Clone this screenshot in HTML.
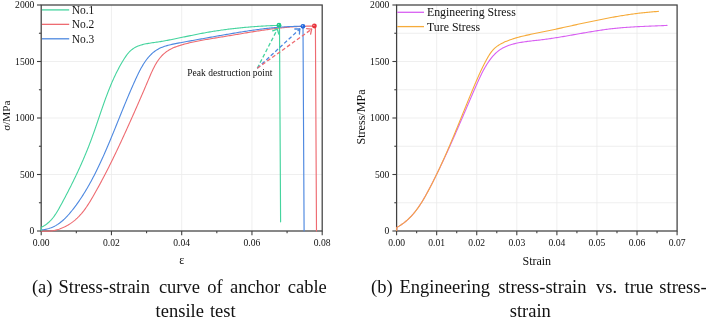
<!DOCTYPE html>
<html><head><meta charset="utf-8"><style>
html,body{margin:0;padding:0;background:#fff;width:708px;height:319px;overflow:hidden;}
svg{display:block;will-change:transform;}
text{font-family:"Liberation Serif",serif;}
</style></head><body>
<svg width="708" height="319" viewBox="0 0 708 319" font-family="Liberation Serif, serif" fill="#111">
<rect width="708" height="319" fill="#fff"/>
<line x1="111.45" y1="5.0" x2="111.45" y2="231.0" stroke="#ebebeb" stroke-width="0.8"/>
<line x1="181.70" y1="5.0" x2="181.70" y2="231.0" stroke="#ebebeb" stroke-width="0.8"/>
<line x1="251.95" y1="5.0" x2="251.95" y2="231.0" stroke="#ebebeb" stroke-width="0.8"/>
<line x1="41.2" y1="174.50" x2="322.2" y2="174.50" stroke="#ebebeb" stroke-width="0.8"/>
<line x1="41.2" y1="118.00" x2="322.2" y2="118.00" stroke="#ebebeb" stroke-width="0.8"/>
<line x1="41.2" y1="61.50" x2="322.2" y2="61.50" stroke="#ebebeb" stroke-width="0.8"/>
<line x1="41.20" y1="231.0" x2="41.20" y2="235.3" stroke="#404040" stroke-width="1.1"/>
<text x="41.20" y="246.3" font-size="9.6" text-anchor="middle">0.00</text>
<line x1="111.45" y1="231.0" x2="111.45" y2="235.3" stroke="#404040" stroke-width="1.1"/>
<text x="111.45" y="246.3" font-size="9.6" text-anchor="middle">0.02</text>
<line x1="181.70" y1="231.0" x2="181.70" y2="235.3" stroke="#404040" stroke-width="1.1"/>
<text x="181.70" y="246.3" font-size="9.6" text-anchor="middle">0.04</text>
<line x1="251.95" y1="231.0" x2="251.95" y2="235.3" stroke="#404040" stroke-width="1.1"/>
<text x="251.95" y="246.3" font-size="9.6" text-anchor="middle">0.06</text>
<line x1="322.20" y1="231.0" x2="322.20" y2="235.3" stroke="#404040" stroke-width="1.1"/>
<text x="322.20" y="246.3" font-size="9.6" text-anchor="middle">0.08</text>
<line x1="76.33" y1="231.0" x2="76.33" y2="233.3" stroke="#404040" stroke-width="1.1"/>
<line x1="146.57" y1="231.0" x2="146.57" y2="233.3" stroke="#404040" stroke-width="1.1"/>
<line x1="216.82" y1="231.0" x2="216.82" y2="233.3" stroke="#404040" stroke-width="1.1"/>
<line x1="287.08" y1="231.0" x2="287.08" y2="233.3" stroke="#404040" stroke-width="1.1"/>
<line x1="37.0" y1="231.00" x2="41.2" y2="231.00" stroke="#404040" stroke-width="1.1"/>
<text x="34.3" y="234.20" font-size="9.6" text-anchor="end">0</text>
<line x1="37.0" y1="174.50" x2="41.2" y2="174.50" stroke="#404040" stroke-width="1.1"/>
<text x="34.3" y="177.70" font-size="9.6" text-anchor="end">500</text>
<line x1="37.0" y1="118.00" x2="41.2" y2="118.00" stroke="#404040" stroke-width="1.1"/>
<text x="34.3" y="121.20" font-size="9.6" text-anchor="end">1000</text>
<line x1="37.0" y1="61.50" x2="41.2" y2="61.50" stroke="#404040" stroke-width="1.1"/>
<text x="34.3" y="64.70" font-size="9.6" text-anchor="end">1500</text>
<line x1="37.0" y1="5.00" x2="41.2" y2="5.00" stroke="#404040" stroke-width="1.1"/>
<text x="34.3" y="8.20" font-size="9.6" text-anchor="end">2000</text>
<line x1="38.900000000000006" y1="202.75" x2="41.2" y2="202.75" stroke="#404040" stroke-width="1.1"/>
<line x1="38.900000000000006" y1="146.25" x2="41.2" y2="146.25" stroke="#404040" stroke-width="1.1"/>
<line x1="38.900000000000006" y1="89.75" x2="41.2" y2="89.75" stroke="#404040" stroke-width="1.1"/>
<line x1="38.900000000000006" y1="33.25" x2="41.2" y2="33.25" stroke="#404040" stroke-width="1.1"/>
<rect x="41.2" y="5.0" width="281.00" height="226.0" fill="none" stroke="#404040" stroke-width="1.25"/>
<line x1="436.67" y1="5.0" x2="436.67" y2="231.0" stroke="#ebebeb" stroke-width="0.8"/>
<line x1="476.74" y1="5.0" x2="476.74" y2="231.0" stroke="#ebebeb" stroke-width="0.8"/>
<line x1="516.81" y1="5.0" x2="516.81" y2="231.0" stroke="#ebebeb" stroke-width="0.8"/>
<line x1="556.89" y1="5.0" x2="556.89" y2="231.0" stroke="#ebebeb" stroke-width="0.8"/>
<line x1="596.96" y1="5.0" x2="596.96" y2="231.0" stroke="#ebebeb" stroke-width="0.8"/>
<line x1="637.03" y1="5.0" x2="637.03" y2="231.0" stroke="#ebebeb" stroke-width="0.8"/>
<line x1="396.6" y1="202.75" x2="677.1" y2="202.75" stroke="#ebebeb" stroke-width="0.8"/>
<line x1="396.6" y1="174.50" x2="677.1" y2="174.50" stroke="#ebebeb" stroke-width="0.8"/>
<line x1="396.6" y1="146.25" x2="677.1" y2="146.25" stroke="#ebebeb" stroke-width="0.8"/>
<line x1="396.6" y1="118.00" x2="677.1" y2="118.00" stroke="#ebebeb" stroke-width="0.8"/>
<line x1="396.6" y1="89.75" x2="677.1" y2="89.75" stroke="#ebebeb" stroke-width="0.8"/>
<line x1="396.6" y1="61.50" x2="677.1" y2="61.50" stroke="#ebebeb" stroke-width="0.8"/>
<line x1="396.6" y1="33.25" x2="677.1" y2="33.25" stroke="#ebebeb" stroke-width="0.8"/>
<line x1="396.60" y1="231.0" x2="396.60" y2="235.3" stroke="#404040" stroke-width="1.1"/>
<text x="396.60" y="246.3" font-size="9.6" text-anchor="middle">0.00</text>
<line x1="436.67" y1="231.0" x2="436.67" y2="235.3" stroke="#404040" stroke-width="1.1"/>
<text x="436.67" y="246.3" font-size="9.6" text-anchor="middle">0.01</text>
<line x1="476.74" y1="231.0" x2="476.74" y2="235.3" stroke="#404040" stroke-width="1.1"/>
<text x="476.74" y="246.3" font-size="9.6" text-anchor="middle">0.02</text>
<line x1="516.81" y1="231.0" x2="516.81" y2="235.3" stroke="#404040" stroke-width="1.1"/>
<text x="516.81" y="246.3" font-size="9.6" text-anchor="middle">0.03</text>
<line x1="556.89" y1="231.0" x2="556.89" y2="235.3" stroke="#404040" stroke-width="1.1"/>
<text x="556.89" y="246.3" font-size="9.6" text-anchor="middle">0.04</text>
<line x1="596.96" y1="231.0" x2="596.96" y2="235.3" stroke="#404040" stroke-width="1.1"/>
<text x="596.96" y="246.3" font-size="9.6" text-anchor="middle">0.05</text>
<line x1="637.03" y1="231.0" x2="637.03" y2="235.3" stroke="#404040" stroke-width="1.1"/>
<text x="637.03" y="246.3" font-size="9.6" text-anchor="middle">0.06</text>
<line x1="677.10" y1="231.0" x2="677.10" y2="235.3" stroke="#404040" stroke-width="1.1"/>
<text x="677.10" y="246.3" font-size="9.6" text-anchor="middle">0.07</text>
<line x1="416.64" y1="231.0" x2="416.64" y2="233.3" stroke="#404040" stroke-width="1.1"/>
<line x1="456.71" y1="231.0" x2="456.71" y2="233.3" stroke="#404040" stroke-width="1.1"/>
<line x1="496.78" y1="231.0" x2="496.78" y2="233.3" stroke="#404040" stroke-width="1.1"/>
<line x1="536.85" y1="231.0" x2="536.85" y2="233.3" stroke="#404040" stroke-width="1.1"/>
<line x1="576.92" y1="231.0" x2="576.92" y2="233.3" stroke="#404040" stroke-width="1.1"/>
<line x1="616.99" y1="231.0" x2="616.99" y2="233.3" stroke="#404040" stroke-width="1.1"/>
<line x1="657.06" y1="231.0" x2="657.06" y2="233.3" stroke="#404040" stroke-width="1.1"/>
<line x1="392.40000000000003" y1="231.00" x2="396.6" y2="231.00" stroke="#404040" stroke-width="1.1"/>
<text x="389.3" y="234.20" font-size="9.6" text-anchor="end">0</text>
<line x1="392.40000000000003" y1="174.50" x2="396.6" y2="174.50" stroke="#404040" stroke-width="1.1"/>
<text x="389.3" y="177.70" font-size="9.6" text-anchor="end">500</text>
<line x1="392.40000000000003" y1="118.00" x2="396.6" y2="118.00" stroke="#404040" stroke-width="1.1"/>
<text x="389.3" y="121.20" font-size="9.6" text-anchor="end">1000</text>
<line x1="392.40000000000003" y1="61.50" x2="396.6" y2="61.50" stroke="#404040" stroke-width="1.1"/>
<text x="389.3" y="64.70" font-size="9.6" text-anchor="end">1500</text>
<line x1="392.40000000000003" y1="5.00" x2="396.6" y2="5.00" stroke="#404040" stroke-width="1.1"/>
<text x="389.3" y="8.20" font-size="9.6" text-anchor="end">2000</text>
<line x1="394.3" y1="202.75" x2="396.6" y2="202.75" stroke="#404040" stroke-width="1.1"/>
<line x1="394.3" y1="146.25" x2="396.6" y2="146.25" stroke="#404040" stroke-width="1.1"/>
<line x1="394.3" y1="89.75" x2="396.6" y2="89.75" stroke="#404040" stroke-width="1.1"/>
<line x1="394.3" y1="33.25" x2="396.6" y2="33.25" stroke="#404040" stroke-width="1.1"/>
<rect x="396.6" y="5.0" width="280.50" height="226.0" fill="none" stroke="#404040" stroke-width="1.25"/>
<g fill="none" stroke-width="1.1" stroke-linejoin="round" stroke-linecap="round">
<path d="M41.20,231.00 L42.50,231.14 L43.80,231.23 L45.10,231.28 L46.40,231.28 L47.68,231.25 L48.97,231.17 L50.25,231.05 L51.52,230.90 L52.78,230.70 L54.03,230.47 L55.28,230.19 L56.52,229.89 L57.74,229.54 L58.96,229.16 L60.16,228.75 L61.35,228.30 L62.53,227.82 L63.69,227.31 L64.84,226.77 L65.97,226.19 L67.09,225.59 L68.19,224.96 L69.27,224.30 L70.34,223.61 L71.38,222.90 L72.41,222.16 L73.41,221.40 L74.40,220.61 L75.36,219.80 L76.30,218.96 L77.22,218.11 L78.12,217.23 L78.99,216.34 L79.85,215.42 L80.69,214.49 L81.51,213.54 L82.31,212.57 L83.10,211.59 L83.88,210.59 L84.63,209.58 L85.38,208.56 L86.11,207.52 L86.83,206.47 L87.54,205.41 L88.23,204.35 L88.92,203.27 L89.60,202.19 L90.27,201.10 L90.93,200.00 L91.59,198.90 L92.24,197.79 L92.88,196.68 L93.52,195.57 L94.16,194.46 L94.79,193.34 L95.43,192.22 L96.05,191.10 L96.68,189.99 L97.30,188.86 L97.92,187.74 L98.54,186.62 L99.15,185.50 L99.77,184.37 L100.38,183.24 L100.98,182.12 L101.59,180.99 L102.19,179.86 L102.79,178.73 L103.38,177.60 L103.98,176.47 L104.57,175.33 L105.16,174.20 L105.74,173.06 L106.33,171.93 L106.91,170.79 L107.49,169.65 L108.07,168.52 L108.64,167.38 L109.21,166.24 L109.78,165.10 L110.35,163.96 L110.92,162.81 L111.48,161.67 L112.05,160.53 L112.61,159.39 L113.17,158.24 L113.72,157.10 L114.28,155.95 L114.83,154.81 L115.38,153.66 L115.93,152.51 L116.48,151.37 L117.03,150.22 L117.57,149.07 L118.11,147.92 L118.65,146.77 L119.19,145.62 L119.73,144.48 L120.27,143.33 L120.81,142.18 L121.34,141.03 L121.87,139.88 L122.40,138.73 L122.93,137.58 L123.46,136.42 L123.99,135.27 L124.51,134.12 L125.04,132.97 L125.56,131.82 L126.09,130.67 L126.61,129.52 L127.13,128.37 L127.65,127.22 L128.17,126.07 L128.68,124.92 L129.20,123.77 L129.72,122.62 L130.23,121.47 L130.75,120.32 L131.26,119.17 L131.77,118.02 L132.29,116.87 L132.80,115.72 L133.31,114.57 L133.82,113.42 L134.33,112.27 L134.84,111.12 L135.35,109.96 L135.85,108.81 L136.36,107.66 L136.87,106.50 L137.38,105.35 L137.89,104.19 L138.39,103.03 L138.90,101.87 L139.41,100.71 L139.91,99.55 L140.42,98.38 L140.93,97.21 L141.43,96.05 L141.94,94.87 L142.45,93.70 L142.96,92.52 L143.46,91.34 L143.97,90.16 L144.48,88.98 L144.99,87.79 L145.50,86.60 L146.00,85.41 L146.51,84.21 L147.02,83.01 L147.53,81.81 L148.05,80.60 L148.56,79.39 L149.07,78.17 L149.59,76.96 L150.11,75.74 L150.63,74.53 L151.16,73.32 L151.70,72.12 L152.25,70.92 L152.81,69.74 L153.39,68.56 L153.97,67.39 L154.57,66.24 L155.19,65.11 L155.83,63.99 L156.48,62.89 L157.16,61.82 L157.85,60.76 L158.58,59.73 L159.32,58.73 L160.09,57.75 L160.89,56.80 L161.71,55.89 L162.57,55.00 L163.46,54.15 L164.38,53.34 L165.33,52.56 L166.30,51.82 L167.31,51.11 L168.34,50.43 L169.40,49.80 L170.48,49.20 L171.59,48.63 L172.72,48.10 L173.86,47.60 L175.03,47.13 L176.21,46.69 L177.40,46.27 L178.60,45.87 L179.81,45.48 L181.02,45.11 L182.23,44.75 L183.45,44.40 L184.67,44.06 L185.90,43.73 L187.13,43.41 L188.36,43.10 L189.60,42.80 L190.84,42.51 L192.08,42.23 L193.32,41.96 L194.57,41.69 L195.81,41.43 L197.06,41.18 L198.32,40.93 L199.57,40.69 L200.82,40.45 L202.08,40.22 L203.34,40.00 L204.60,39.77 L205.86,39.56 L207.12,39.34 L208.38,39.13 L209.65,38.92 L210.91,38.71 L212.17,38.51 L213.44,38.30 L214.70,38.10 L215.96,37.90 L217.23,37.69 L218.49,37.49 L219.75,37.29 L221.01,37.08 L222.27,36.88 L223.54,36.67 L224.80,36.46 L226.05,36.25 L227.31,36.04 L228.57,35.83 L229.83,35.62 L231.09,35.40 L232.34,35.19 L233.60,34.98 L234.85,34.77 L236.11,34.55 L237.37,34.34 L238.62,34.13 L239.87,33.92 L241.13,33.71 L242.38,33.50 L243.64,33.29 L244.89,33.08 L246.14,32.87 L247.40,32.66 L248.65,32.46 L249.90,32.25 L251.16,32.05 L252.41,31.84 L253.66,31.64 L254.92,31.45 L256.17,31.25 L257.42,31.05 L258.68,30.86 L259.93,30.67 L261.18,30.48 L262.44,30.30 L263.69,30.11 L264.95,29.93 L266.20,29.75 L267.46,29.58 L268.71,29.40 L269.97,29.23 L271.23,29.07 L272.48,28.91 L273.74,28.75 L275.00,28.59 L276.26,28.44 L277.52,28.29 L278.78,28.14 L280.04,28.00 L281.30,27.87 L282.56,27.73 L283.82,27.60 L285.08,27.48 L286.35,27.36 L287.61,27.25 L288.88,27.14 L290.14,27.03 L291.41,26.93 L292.68,26.83 L293.95,26.74 L295.22,26.66 L296.49,26.58 L297.76,26.51 L299.03,26.44 L300.31,26.38 L301.58,26.32 L302.86,26.27 L304.14,26.22 L305.42,26.19 L306.70,26.15 L307.98,26.13 L309.26,26.11 L310.54,26.10 L311.83,26.09 L313.11,26.09 L314.40,26.10" stroke="#ee6b71"/>
<path d="M41.20,229.80 L42.56,229.70 L43.89,229.55 L45.18,229.35 L46.45,229.10 L47.69,228.81 L48.91,228.48 L50.09,228.10 L51.25,227.68 L52.38,227.22 L53.49,226.72 L54.57,226.19 L55.63,225.62 L56.67,225.02 L57.69,224.38 L58.68,223.71 L59.66,223.02 L60.61,222.29 L61.55,221.54 L62.47,220.77 L63.37,219.97 L64.26,219.15 L65.13,218.30 L65.99,217.44 L66.83,216.56 L67.66,215.67 L68.48,214.75 L69.29,213.83 L70.08,212.89 L70.87,211.94 L71.65,210.99 L72.42,210.02 L73.18,209.05 L73.93,208.07 L74.68,207.09 L75.42,206.10 L76.16,205.11 L76.88,204.10 L77.60,203.10 L78.31,202.09 L79.02,201.07 L79.72,200.04 L80.41,199.02 L81.10,197.98 L81.78,196.95 L82.45,195.90 L83.12,194.86 L83.78,193.81 L84.43,192.75 L85.08,191.69 L85.73,190.63 L86.36,189.56 L87.00,188.49 L87.62,187.41 L88.24,186.33 L88.86,185.25 L89.47,184.17 L90.07,183.08 L90.67,181.99 L91.27,180.89 L91.86,179.80 L92.44,178.70 L93.02,177.59 L93.60,176.49 L94.17,175.38 L94.74,174.27 L95.30,173.16 L95.86,172.05 L96.41,170.94 L96.96,169.82 L97.50,168.70 L98.04,167.58 L98.58,166.46 L99.11,165.34 L99.64,164.22 L100.17,163.10 L100.69,161.97 L101.21,160.85 L101.73,159.73 L102.24,158.60 L102.75,157.47 L103.25,156.35 L103.76,155.22 L104.26,154.10 L104.75,152.97 L105.25,151.84 L105.74,150.72 L106.23,149.59 L106.72,148.46 L107.20,147.33 L107.68,146.20 L108.16,145.07 L108.64,143.94 L109.12,142.81 L109.59,141.68 L110.06,140.55 L110.54,139.42 L111.01,138.29 L111.47,137.16 L111.94,136.02 L112.41,134.89 L112.87,133.76 L113.34,132.63 L113.80,131.49 L114.26,130.36 L114.72,129.22 L115.18,128.09 L115.64,126.95 L116.10,125.81 L116.56,124.68 L117.02,123.54 L117.48,122.40 L117.94,121.27 L118.40,120.13 L118.86,118.99 L119.32,117.85 L119.78,116.71 L120.24,115.57 L120.70,114.43 L121.16,113.29 L121.62,112.15 L122.09,111.01 L122.55,109.86 L123.02,108.72 L123.48,107.58 L123.95,106.43 L124.42,105.29 L124.89,104.15 L125.36,103.00 L125.84,101.85 L126.31,100.71 L126.79,99.56 L127.27,98.41 L127.75,97.27 L128.24,96.12 L128.72,94.97 L129.21,93.82 L129.70,92.67 L130.19,91.52 L130.69,90.37 L131.19,89.22 L131.69,88.07 L132.20,86.92 L132.70,85.76 L133.22,84.61 L133.73,83.46 L134.25,82.30 L134.77,81.15 L135.29,79.99 L135.82,78.83 L136.36,77.68 L136.89,76.53 L137.44,75.38 L137.99,74.23 L138.55,73.09 L139.11,71.95 L139.69,70.82 L140.27,69.71 L140.87,68.60 L141.47,67.50 L142.09,66.42 L142.72,65.35 L143.36,64.29 L144.02,63.25 L144.69,62.23 L145.38,61.22 L146.08,60.24 L146.81,59.27 L147.54,58.33 L148.30,57.41 L149.08,56.51 L149.88,55.64 L150.69,54.80 L151.53,53.99 L152.40,53.20 L153.28,52.44 L154.19,51.72 L155.12,51.03 L156.08,50.37 L157.07,49.75 L158.08,49.16 L159.11,48.61 L160.18,48.09 L161.26,47.61 L162.37,47.16 L163.50,46.73 L164.65,46.33 L165.81,45.96 L166.99,45.61 L168.18,45.27 L169.39,44.96 L170.61,44.67 L171.83,44.39 L173.06,44.12 L174.30,43.86 L175.55,43.62 L176.79,43.38 L178.04,43.14 L179.29,42.91 L180.54,42.68 L181.78,42.45 L183.02,42.23 L184.26,42.00 L185.50,41.77 L186.73,41.55 L187.96,41.32 L189.19,41.10 L190.42,40.87 L191.65,40.65 L192.87,40.43 L194.10,40.20 L195.32,39.98 L196.54,39.76 L197.76,39.54 L198.98,39.32 L200.20,39.10 L201.41,38.88 L202.63,38.67 L203.84,38.45 L205.05,38.23 L206.27,38.01 L207.48,37.80 L208.69,37.58 L209.90,37.36 L211.11,37.15 L212.32,36.93 L213.53,36.72 L214.74,36.51 L215.95,36.29 L217.16,36.08 L218.38,35.86 L219.59,35.65 L220.80,35.44 L222.01,35.22 L223.22,35.01 L224.43,34.80 L225.65,34.59 L226.86,34.38 L228.07,34.17 L229.29,33.96 L230.50,33.75 L231.71,33.54 L232.93,33.34 L234.14,33.13 L235.36,32.93 L236.58,32.73 L237.79,32.53 L239.01,32.33 L240.23,32.13 L241.45,31.93 L242.66,31.74 L243.88,31.55 L245.10,31.36 L246.32,31.17 L247.54,30.98 L248.76,30.80 L249.98,30.62 L251.20,30.44 L252.42,30.26 L253.65,30.09 L254.87,29.92 L256.09,29.75 L257.31,29.59 L258.54,29.42 L259.76,29.26 L260.99,29.11 L262.21,28.96 L263.44,28.81 L264.66,28.66 L265.89,28.52 L267.12,28.38 L268.34,28.24 L269.57,28.11 L270.80,27.98 L272.03,27.86 L273.26,27.74 L274.49,27.62 L275.72,27.51 L276.95,27.40 L278.18,27.30 L279.41,27.20 L280.64,27.11 L281.87,27.02 L283.11,26.94 L284.34,26.86 L285.57,26.78 L286.81,26.71 L288.04,26.65 L289.28,26.59 L290.52,26.53 L291.75,26.48 L292.99,26.44 L294.23,26.40 L295.46,26.37 L296.70,26.35 L297.94,26.32 L299.18,26.31 L300.42,26.30 L301.66,26.30 L302.90,26.30" stroke="#4d88e0"/>
<path d="M41.4,230.5 L41.20,227.30 L42.31,226.77 L43.39,226.19 L44.42,225.58 L45.42,224.94 L46.38,224.25 L47.31,223.54 L48.21,222.79 L49.07,222.02 L49.90,221.21 L50.71,220.38 L51.49,219.53 L52.25,218.65 L52.98,217.75 L53.69,216.83 L54.38,215.89 L55.05,214.93 L55.70,213.96 L56.34,212.97 L56.96,211.97 L57.57,210.96 L58.17,209.94 L58.76,208.91 L59.35,207.88 L59.92,206.84 L60.49,205.79 L61.06,204.75 L61.62,203.71 L62.19,202.66 L62.75,201.62 L63.31,200.57 L63.86,199.53 L64.42,198.49 L64.97,197.44 L65.52,196.39 L66.07,195.35 L66.62,194.30 L67.16,193.26 L67.70,192.21 L68.24,191.16 L68.78,190.11 L69.31,189.07 L69.85,188.02 L70.38,186.97 L70.91,185.92 L71.43,184.87 L71.96,183.82 L72.48,182.76 L73.00,181.71 L73.51,180.66 L74.03,179.60 L74.54,178.55 L75.05,177.49 L75.56,176.44 L76.06,175.38 L76.56,174.32 L77.06,173.26 L77.56,172.20 L78.06,171.14 L78.55,170.07 L79.04,169.01 L79.52,167.94 L80.01,166.88 L80.49,165.81 L80.97,164.74 L81.44,163.67 L81.92,162.60 L82.39,161.53 L82.86,160.45 L83.32,159.38 L83.78,158.30 L84.24,157.22 L84.70,156.14 L85.15,155.06 L85.60,153.98 L86.05,152.90 L86.50,151.81 L86.94,150.72 L87.38,149.63 L87.82,148.54 L88.25,147.45 L88.68,146.35 L89.11,145.26 L89.53,144.16 L89.95,143.06 L90.37,141.96 L90.79,140.85 L91.20,139.75 L91.61,138.64 L92.02,137.53 L92.42,136.42 L92.82,135.31 L93.22,134.19 L93.62,133.08 L94.01,131.96 L94.40,130.84 L94.80,129.72 L95.18,128.60 L95.57,127.48 L95.96,126.36 L96.34,125.23 L96.73,124.11 L97.11,122.98 L97.50,121.86 L97.88,120.73 L98.26,119.61 L98.64,118.48 L99.03,117.35 L99.41,116.23 L99.79,115.10 L100.17,113.98 L100.56,112.85 L100.94,111.73 L101.33,110.60 L101.71,109.48 L102.10,108.35 L102.49,107.23 L102.88,106.11 L103.27,104.99 L103.67,103.87 L104.06,102.75 L104.46,101.63 L104.86,100.52 L105.27,99.40 L105.67,98.29 L106.08,97.18 L106.50,96.07 L106.91,94.96 L107.33,93.85 L107.75,92.75 L108.18,91.64 L108.61,90.54 L109.04,89.45 L109.48,88.35 L109.92,87.26 L110.37,86.17 L110.82,85.08 L111.27,84.00 L111.73,82.91 L112.20,81.84 L112.67,80.76 L113.15,79.69 L113.63,78.62 L114.12,77.55 L114.61,76.49 L115.11,75.43 L115.62,74.37 L116.13,73.32 L116.65,72.27 L117.17,71.23 L117.71,70.19 L118.24,69.15 L118.79,68.12 L119.34,67.09 L119.90,66.07 L120.47,65.05 L121.05,64.04 L121.63,63.03 L122.23,62.02 L122.83,61.02 L123.44,60.03 L124.05,59.04 L124.68,58.05 L125.32,57.08 L125.97,56.12 L126.64,55.18 L127.34,54.26 L128.05,53.36 L128.80,52.50 L129.57,51.67 L130.38,50.88 L131.22,50.13 L132.10,49.43 L133.01,48.77 L133.96,48.15 L134.93,47.58 L135.93,47.04 L136.97,46.55 L138.02,46.09 L139.10,45.67 L140.21,45.29 L141.33,44.95 L142.47,44.63 L143.63,44.34 L144.80,44.07 L145.99,43.82 L147.18,43.60 L148.38,43.39 L149.59,43.19 L150.81,43.01 L152.02,42.83 L153.24,42.66 L154.45,42.49 L155.66,42.32 L156.86,42.15 L158.05,41.97 L159.24,41.79 L160.42,41.60 L161.59,41.40 L162.75,41.20 L163.91,40.99 L165.06,40.78 L166.21,40.56 L167.36,40.34 L168.51,40.12 L169.65,39.89 L170.80,39.67 L171.94,39.44 L173.09,39.21 L174.23,38.97 L175.38,38.74 L176.52,38.51 L177.67,38.27 L178.82,38.03 L179.97,37.79 L181.11,37.56 L182.26,37.32 L183.41,37.08 L184.56,36.84 L185.71,36.60 L186.86,36.36 L188.01,36.13 L189.16,35.89 L190.32,35.65 L191.47,35.42 L192.62,35.18 L193.77,34.95 L194.93,34.72 L196.08,34.49 L197.24,34.26 L198.39,34.03 L199.55,33.80 L200.70,33.58 L201.86,33.36 L203.02,33.14 L204.18,32.93 L205.33,32.71 L206.49,32.50 L207.65,32.30 L208.81,32.09 L209.97,31.89 L211.14,31.70 L212.30,31.50 L213.46,31.31 L214.62,31.13 L215.79,30.95 L216.95,30.77 L218.12,30.59 L219.28,30.42 L220.45,30.25 L221.61,30.08 L222.78,29.92 L223.95,29.76 L225.12,29.60 L226.28,29.45 L227.45,29.30 L228.62,29.15 L229.79,29.01 L230.96,28.87 L232.13,28.73 L233.30,28.59 L234.47,28.46 L235.64,28.33 L236.82,28.21 L237.99,28.08 L239.16,27.96 L240.33,27.84 L241.50,27.73 L242.68,27.62 L243.85,27.51 L245.02,27.40 L246.20,27.30 L247.37,27.19 L248.55,27.09 L249.72,27.00 L250.89,26.90 L252.07,26.81 L253.24,26.72 L254.42,26.63 L255.59,26.55 L256.77,26.47 L257.94,26.39 L259.12,26.31 L260.29,26.23 L261.47,26.16 L262.65,26.09 L263.82,26.02 L265.00,25.95 L266.17,25.89 L267.35,25.82 L268.52,25.76 L269.70,25.70 L270.87,25.65 L272.05,25.59 L273.22,25.54 L274.40,25.49 L275.58,25.44 L276.75,25.39 L277.93,25.34 L279.10,25.30" stroke="#45d49e"/>
<path d="M279.5,26 L280.6,221.8" stroke="#45d49e" stroke-width="1.15"/>
<path d="M303.0,26.5 L304.1,231" stroke="#4d88e0" stroke-width="1.15"/>
<path d="M315.4,26.1 L316.5,231" stroke="#ee6b71" stroke-width="1.15"/>
</g>
<circle cx="279.0" cy="25.2" r="2.4" fill="#20c98a"/>
<circle cx="278.5" cy="24.599999999999998" r="0.7" fill="#fff" fill-opacity="0.55"/>
<circle cx="302.95" cy="26.3" r="2.4" fill="#2468dc"/>
<circle cx="302.45" cy="25.7" r="0.7" fill="#fff" fill-opacity="0.55"/>
<circle cx="314.4" cy="26.0" r="2.4" fill="#e8333c"/>
<circle cx="313.9" cy="25.4" r="0.7" fill="#fff" fill-opacity="0.55"/>
<line x1="257.3" y1="68.2" x2="277.4" y2="29.2" stroke="#45d49e" stroke-width="1.3" stroke-dasharray="3.8,2.3"/>
<line x1="277.4" y1="29.2" x2="272.69" y2="30.89" stroke="#45d49e" stroke-width="1.3" stroke-linecap="round"/>
<line x1="277.4" y1="29.2" x2="278.75" y2="34.01" stroke="#45d49e" stroke-width="1.3" stroke-linecap="round"/>
<line x1="257.3" y1="68.2" x2="299.8" y2="29.0" stroke="#4d88e0" stroke-width="1.3" stroke-dasharray="3.8,2.3"/>
<line x1="299.8" y1="29.0" x2="294.80" y2="28.98" stroke="#4d88e0" stroke-width="1.3" stroke-linecap="round"/>
<line x1="299.8" y1="29.0" x2="299.42" y2="33.99" stroke="#4d88e0" stroke-width="1.3" stroke-linecap="round"/>
<line x1="257.3" y1="68.2" x2="311.6" y2="29.2" stroke="#ee6b71" stroke-width="1.3" stroke-dasharray="3.8,2.3"/>
<line x1="311.6" y1="29.2" x2="306.64" y2="28.57" stroke="#ee6b71" stroke-width="1.3" stroke-linecap="round"/>
<line x1="311.6" y1="29.2" x2="310.62" y2="34.10" stroke="#ee6b71" stroke-width="1.3" stroke-linecap="round"/>
<text x="187.33" y="75.8" font-size="9.5">Peak destruction point</text>
<line x1="42" y1="9.90" x2="69.2" y2="9.90" stroke="#45d49e" stroke-width="1.3"/>
<text x="71.67" y="13.80" font-size="11.5">No.1</text>
<line x1="42" y1="24.35" x2="69.2" y2="24.35" stroke="#ee6b71" stroke-width="1.3"/>
<text x="71.67" y="28.25" font-size="11.5">No.2</text>
<line x1="42" y1="38.80" x2="69.2" y2="38.80" stroke="#4d88e0" stroke-width="1.3"/>
<text x="71.67" y="42.70" font-size="11.5">No.3</text>
<g fill="none" stroke-width="1.1" stroke-linejoin="round" stroke-linecap="round">
<path d="M396.7,230.5 L396.80,227.40 L397.94,226.78 L399.06,226.14 L400.15,225.47 L401.22,224.78 L402.27,224.06 L403.29,223.33 L404.30,222.57 L405.28,221.79 L406.24,220.99 L407.19,220.17 L408.11,219.33 L409.02,218.47 L409.90,217.60 L410.77,216.71 L411.63,215.80 L412.46,214.87 L413.28,213.93 L414.09,212.98 L414.88,212.01 L415.65,211.03 L416.41,210.03 L417.16,209.02 L417.90,208.00 L418.62,206.97 L419.33,205.93 L420.03,204.88 L420.72,203.82 L421.40,202.75 L422.07,201.67 L422.73,200.59 L423.38,199.49 L424.02,198.39 L424.66,197.29 L425.29,196.18 L425.91,195.07 L426.53,193.95 L427.14,192.83 L427.75,191.70 L428.35,190.58 L428.95,189.45 L429.54,188.32 L430.13,187.19 L430.72,186.06 L431.31,184.93 L431.89,183.80 L432.47,182.67 L433.05,181.54 L433.63,180.41 L434.20,179.27 L434.77,178.14 L435.34,177.00 L435.90,175.87 L436.46,174.73 L437.02,173.60 L437.58,172.46 L438.14,171.33 L438.69,170.19 L439.24,169.05 L439.79,167.91 L440.34,166.77 L440.88,165.63 L441.42,164.49 L441.96,163.35 L442.50,162.21 L443.04,161.07 L443.57,159.93 L444.11,158.79 L444.64,157.64 L445.17,156.50 L445.70,155.36 L446.22,154.21 L446.75,153.07 L447.27,151.92 L447.79,150.78 L448.31,149.63 L448.83,148.48 L449.35,147.33 L449.86,146.19 L450.38,145.04 L450.89,143.89 L451.40,142.74 L451.92,141.59 L452.43,140.44 L452.93,139.29 L453.44,138.14 L453.95,136.98 L454.46,135.83 L454.96,134.68 L455.47,133.53 L455.97,132.37 L456.47,131.22 L456.98,130.06 L457.48,128.91 L457.98,127.75 L458.48,126.60 L458.98,125.44 L459.48,124.28 L459.98,123.13 L460.48,121.97 L460.98,120.81 L461.48,119.65 L461.98,118.49 L462.48,117.33 L462.98,116.17 L463.47,115.01 L463.97,113.85 L464.47,112.69 L464.97,111.53 L465.47,110.36 L465.97,109.20 L466.47,108.04 L466.96,106.87 L467.46,105.71 L467.96,104.55 L468.46,103.38 L468.97,102.22 L469.47,101.05 L469.97,99.88 L470.47,98.72 L470.97,97.55 L471.48,96.38 L471.98,95.22 L472.49,94.05 L472.99,92.88 L473.50,91.71 L474.01,90.54 L474.52,89.37 L475.03,88.20 L475.54,87.03 L476.05,85.86 L476.57,84.69 L477.08,83.52 L477.60,82.35 L478.12,81.18 L478.65,80.02 L479.19,78.86 L479.72,77.70 L480.27,76.55 L480.82,75.40 L481.38,74.25 L481.95,73.12 L482.53,71.99 L483.12,70.86 L483.72,69.74 L484.33,68.64 L484.96,67.54 L485.60,66.45 L486.25,65.36 L486.91,64.29 L487.59,63.23 L488.29,62.19 L489.00,61.15 L489.73,60.13 L490.48,59.12 L491.24,58.13 L492.03,57.15 L492.83,56.20 L493.66,55.27 L494.51,54.37 L495.39,53.49 L496.28,52.65 L497.21,51.84 L498.15,51.06 L499.13,50.32 L500.13,49.62 L501.16,48.97 L502.22,48.35 L503.30,47.77 L504.40,47.22 L505.52,46.71 L506.65,46.23 L507.80,45.77 L508.97,45.35 L510.14,44.95 L511.33,44.58 L512.53,44.23 L513.73,43.90 L514.95,43.60 L516.17,43.31 L517.40,43.04 L518.63,42.79 L519.87,42.56 L521.12,42.34 L522.37,42.13 L523.63,41.93 L524.89,41.75 L526.16,41.58 L527.43,41.41 L528.70,41.25 L529.98,41.10 L531.25,40.95 L532.53,40.81 L533.81,40.67 L535.09,40.52 L536.37,40.38 L537.64,40.24 L538.92,40.09 L540.20,39.95 L541.47,39.79 L542.74,39.63 L544.01,39.47 L545.28,39.30 L546.55,39.13 L547.81,38.95 L549.07,38.77 L550.33,38.59 L551.59,38.40 L552.85,38.21 L554.11,38.02 L555.36,37.83 L556.62,37.63 L557.87,37.43 L559.12,37.22 L560.37,37.02 L561.62,36.81 L562.87,36.60 L564.12,36.39 L565.36,36.17 L566.61,35.96 L567.85,35.74 L569.10,35.53 L570.34,35.31 L571.58,35.09 L572.82,34.87 L574.07,34.65 L575.31,34.43 L576.55,34.21 L577.79,33.99 L579.03,33.78 L580.27,33.56 L581.51,33.34 L582.75,33.12 L583.99,32.91 L585.23,32.69 L586.47,32.48 L587.71,32.27 L588.95,32.06 L590.19,31.85 L591.43,31.64 L592.67,31.44 L593.92,31.24 L595.16,31.04 L596.40,30.84 L597.64,30.65 L598.89,30.46 L600.13,30.27 L601.38,30.09 L602.63,29.91 L603.87,29.73 L605.12,29.56 L606.37,29.39 L607.62,29.23 L608.87,29.07 L610.13,28.91 L611.38,28.76 L612.64,28.62 L613.89,28.48 L615.15,28.34 L616.41,28.22 L617.67,28.09 L618.94,27.97 L620.20,27.86 L621.46,27.75 L622.73,27.64 L624.00,27.54 L625.26,27.45 L626.53,27.35 L627.80,27.27 L629.07,27.18 L630.34,27.10 L631.61,27.02 L632.88,26.94 L634.15,26.87 L635.43,26.80 L636.70,26.73 L637.97,26.67 L639.24,26.61 L640.51,26.54 L641.78,26.48 L643.05,26.43 L644.32,26.37 L645.59,26.32 L646.86,26.26 L648.13,26.21 L649.39,26.16 L650.66,26.10 L651.93,26.05 L653.19,26.00 L654.45,25.95 L655.71,25.90 L656.97,25.85 L658.23,25.80 L659.49,25.74 L660.75,25.69 L662.00,25.63 L663.25,25.58 L664.50,25.52 L665.75,25.46 L667.00,25.40" stroke="#d860f2"/>
<path d="M396.7,230.5 L396.80,227.40 L397.93,226.78 L399.03,226.14 L400.11,225.47 L401.17,224.78 L402.21,224.06 L403.23,223.33 L404.23,222.57 L405.21,221.80 L406.16,221.00 L407.10,220.19 L408.02,219.36 L408.93,218.51 L409.81,217.64 L410.68,216.76 L411.53,215.86 L412.37,214.94 L413.19,214.01 L413.99,213.06 L414.78,212.10 L415.56,211.13 L416.32,210.15 L417.07,209.15 L417.81,208.14 L418.53,207.12 L419.25,206.09 L419.95,205.05 L420.64,204.00 L421.32,202.94 L421.99,201.87 L422.65,200.80 L423.30,199.72 L423.95,198.63 L424.58,197.53 L425.21,196.44 L425.83,195.33 L426.45,194.22 L427.06,193.11 L427.66,191.99 L428.26,190.88 L428.86,189.75 L429.45,188.63 L430.04,187.51 L430.62,186.39 L431.20,185.26 L431.78,184.14 L432.35,183.01 L432.92,181.88 L433.48,180.75 L434.05,179.62 L434.61,178.49 L435.16,177.36 L435.72,176.23 L436.27,175.09 L436.82,173.96 L437.36,172.82 L437.90,171.69 L438.44,170.55 L438.98,169.41 L439.51,168.27 L440.04,167.14 L440.57,166.00 L441.10,164.85 L441.62,163.71 L442.14,162.57 L442.66,161.43 L443.18,160.28 L443.69,159.14 L444.21,157.99 L444.72,156.85 L445.22,155.70 L445.73,154.55 L446.24,153.41 L446.74,152.26 L447.24,151.11 L447.74,149.96 L448.23,148.81 L448.73,147.66 L449.22,146.50 L449.72,145.35 L450.21,144.20 L450.70,143.05 L451.19,141.89 L451.67,140.74 L452.16,139.58 L452.64,138.43 L453.13,137.27 L453.61,136.11 L454.09,134.96 L454.57,133.80 L455.05,132.64 L455.53,131.49 L456.01,130.33 L456.48,129.17 L456.96,128.01 L457.44,126.85 L457.91,125.69 L458.39,124.53 L458.86,123.37 L459.33,122.21 L459.81,121.05 L460.28,119.89 L460.75,118.72 L461.23,117.56 L461.70,116.40 L462.17,115.24 L462.65,114.07 L463.12,112.91 L463.59,111.75 L464.07,110.59 L464.54,109.42 L465.01,108.26 L465.49,107.09 L465.96,105.93 L466.44,104.77 L466.91,103.60 L467.39,102.44 L467.87,101.27 L468.34,100.11 L468.82,98.95 L469.30,97.78 L469.78,96.62 L470.26,95.45 L470.75,94.29 L471.23,93.12 L471.71,91.96 L472.20,90.79 L472.69,89.63 L473.17,88.47 L473.66,87.30 L474.15,86.14 L474.65,84.97 L475.14,83.81 L475.64,82.65 L476.13,81.48 L476.63,80.32 L477.14,79.16 L477.65,78.00 L478.16,76.85 L478.67,75.69 L479.19,74.54 L479.71,73.39 L480.24,72.24 L480.77,71.09 L481.31,69.95 L481.86,68.81 L482.41,67.67 L482.96,66.54 L483.52,65.40 L484.09,64.28 L484.67,63.16 L485.25,62.04 L485.84,60.92 L486.44,59.81 L487.05,58.71 L487.67,57.62 L488.30,56.54 L488.96,55.47 L489.63,54.42 L490.32,53.40 L491.04,52.40 L491.78,51.43 L492.56,50.49 L493.36,49.59 L494.20,48.72 L495.08,47.90 L496.00,47.12 L496.95,46.37 L497.94,45.67 L498.96,45.00 L500.00,44.37 L501.07,43.77 L502.16,43.19 L503.27,42.65 L504.39,42.12 L505.53,41.62 L506.68,41.14 L507.84,40.68 L509.00,40.24 L510.17,39.81 L511.35,39.40 L512.54,39.00 L513.73,38.61 L514.93,38.24 L516.13,37.89 L517.34,37.54 L518.55,37.20 L519.76,36.88 L520.99,36.57 L522.21,36.26 L523.44,35.97 L524.67,35.68 L525.91,35.40 L527.14,35.12 L528.38,34.85 L529.62,34.59 L530.87,34.33 L532.11,34.07 L533.36,33.81 L534.60,33.56 L535.85,33.31 L537.10,33.06 L538.34,32.81 L539.59,32.56 L540.83,32.31 L542.08,32.05 L543.32,31.80 L544.56,31.54 L545.81,31.28 L547.05,31.02 L548.29,30.76 L549.53,30.50 L550.76,30.24 L552.00,29.97 L553.24,29.71 L554.47,29.44 L555.71,29.18 L556.94,28.91 L558.18,28.64 L559.41,28.37 L560.65,28.11 L561.88,27.84 L563.11,27.57 L564.34,27.30 L565.57,27.03 L566.80,26.76 L568.03,26.49 L569.26,26.22 L570.49,25.95 L571.72,25.68 L572.95,25.41 L574.18,25.14 L575.41,24.87 L576.64,24.60 L577.86,24.33 L579.09,24.07 L580.32,23.80 L581.55,23.53 L582.77,23.27 L584.00,23.00 L585.23,22.74 L586.46,22.48 L587.68,22.22 L588.91,21.95 L590.14,21.70 L591.36,21.44 L592.59,21.18 L593.82,20.93 L595.05,20.67 L596.27,20.42 L597.50,20.17 L598.73,19.92 L599.96,19.68 L601.19,19.43 L602.41,19.19 L603.64,18.95 L604.87,18.71 L606.10,18.47 L607.33,18.24 L608.56,18.00 L609.79,17.78 L611.03,17.55 L612.26,17.32 L613.49,17.10 L614.72,16.88 L615.96,16.66 L617.19,16.45 L618.43,16.24 L619.66,16.03 L620.90,15.82 L622.13,15.62 L623.37,15.42 L624.61,15.23 L625.85,15.03 L627.09,14.84 L628.33,14.66 L629.57,14.48 L630.81,14.30 L632.05,14.12 L633.30,13.95 L634.54,13.78 L635.79,13.62 L637.04,13.46 L638.28,13.30 L639.53,13.15 L640.78,13.00 L642.03,12.86 L643.28,12.72 L644.54,12.58 L645.79,12.45 L647.05,12.33 L648.30,12.21 L649.56,12.09 L650.82,11.98 L652.08,11.87 L653.34,11.77 L654.60,11.67 L655.87,11.58 L657.13,11.49 L658.40,11.40" stroke="#f6ab3a"/>
</g>
<line x1="397.2" y1="12.30" x2="424" y2="12.30" stroke="#d860f2" stroke-width="1.3"/>
<text x="426.96" y="16.30" font-size="11.8">Engineering Stress</text>
<line x1="397.2" y1="26.60" x2="424" y2="26.60" stroke="#f6ab3a" stroke-width="1.3"/>
<text x="427.09" y="30.60" font-size="11.8">Ture Stress</text>
<text x="181.7" y="264.3" font-size="12" text-anchor="middle">ε</text>
<text x="536.8" y="264.6" font-size="12" text-anchor="middle">Strain</text>
<text transform="translate(10.0,115.7) rotate(-90)" font-size="11.2" text-anchor="middle">σ/MPa</text>
<text transform="translate(364.8,117.0) rotate(-90)" font-size="12.1" text-anchor="middle">Stress/MPa</text>
<text x="31.89" y="292.8" font-size="18.5">(a)</text>
<text x="58.56" y="292.8" font-size="18.5">Stress-strain</text>
<text x="158.90" y="292.8" font-size="18.5">curve</text>
<text x="207.30" y="292.8" font-size="18.5">of</text>
<text x="229.95" y="292.8" font-size="18.5">anchor</text>
<text x="287.80" y="292.8" font-size="18.5">cable</text>
<text x="155.62" y="316.8" font-size="18.5">tensile</text>
<text x="209.92" y="316.8" font-size="18.5">test</text>
<text x="370.99" y="292.8" font-size="18.5">(b)</text>
<text x="399.57" y="292.8" font-size="18.5">Engineering</text>
<text x="498.14" y="292.8" font-size="18.5">stress-strain</text>
<text x="596.10" y="292.8" font-size="18.5">vs.</text>
<text x="624.52" y="292.8" font-size="18.5">true</text>
<text x="659.34" y="292.8" font-size="18.5">stress-</text>
<text x="509.74" y="316.8" font-size="18.5">strain</text>
</svg>
</body></html>
